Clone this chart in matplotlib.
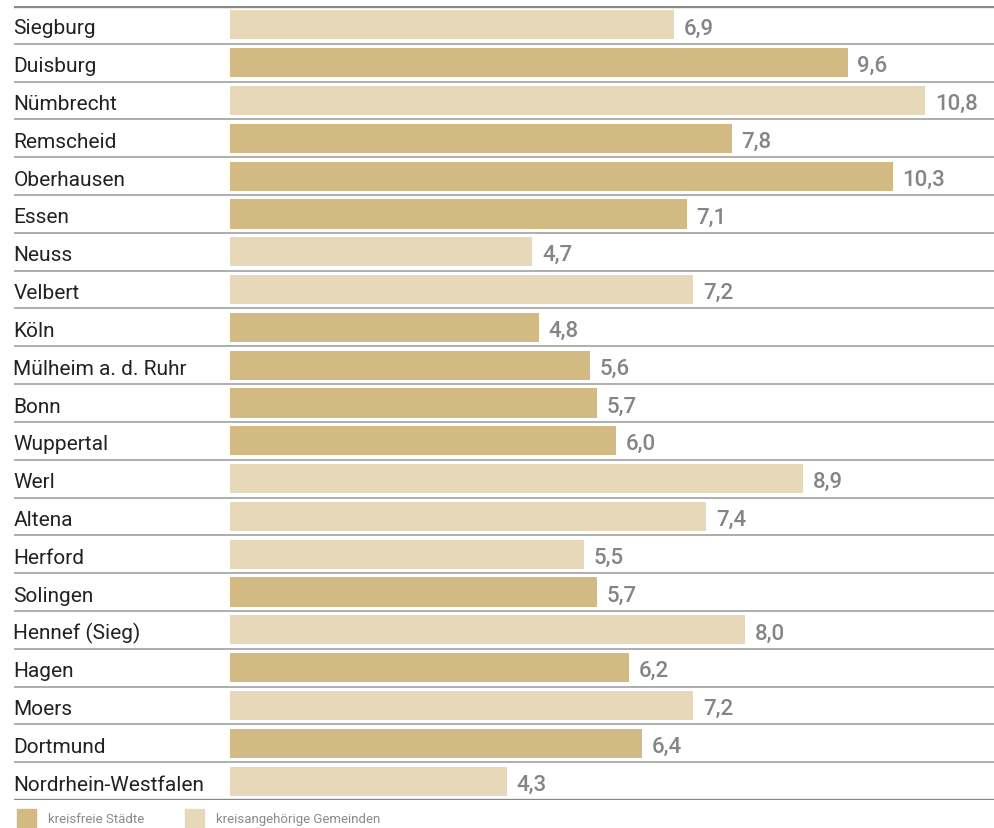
import matplotlib
matplotlib.use("Agg")
import matplotlib.pyplot as plt
from matplotlib.patches import Rectangle

names = ["Siegburg", "Duisburg", "Nümbrecht", "Remscheid", "Oberhausen", "Essen",
         "Neuss", "Velbert", "Köln", "Mülheim a. d. Ruhr", "Bonn", "Wuppertal",
         "Werl", "Altena", "Herford", "Solingen", "Hennef (Sieg)", "Hagen", "Moers",
         "Dortmund", "Nordrhein-Westfalen"]
values = [6.9, 9.6, 10.8, 7.8, 10.3, 7.1, 4.7, 7.2, 4.8, 5.6, 5.7, 6.0,
          8.9, 7.4, 5.5, 5.7, 8.0, 6.2, 7.2, 6.4, 4.3]
kreisfrei = [False, True, False, True, True, True, False, False, True, True, True, True,
             False, False, False, True, False, True, False, True, False]
legend_labels = ["kreisfreie Städte", "kreisangehörige Gemeinden"]

DARK = "#D3B982"
LIGHT = "#E8D8BA"
FONT = ["Roboto", "DejaVu Sans"]

W, H = 995, 829
fig = plt.figure(figsize=(W / 100, H / 100), dpi=100)
ax = fig.add_axes([14 / W, 1 - 801 / H, (W - 14) / W, 794 / H])
ppu = 695 / 10.8
ax.set_xlim(-(230 - 14) / ppu, (W - 230) / ppu)
n = len(names)
ax.set_ylim(n, 0)
ax.set_axis_off()

ys = [i + 0.5 for i in range(n)]
cols = [DARK if k else LIGHT for k in kreisfrei]
ax.barh(ys, values, height=0.77, color=cols, left=0)
x0 = ax.get_xlim()[0]
for y, name, v in zip(ys, names, values):
    ax.text(x0 - 0.01, y + 0.08, name, ha="left", va="center", fontsize=15,
            color="#222222", family=FONT)
    ax.text(v + 0.15, y + 0.08, f"{v:.1f}".replace(".", ","), ha="left", va="center",
            fontsize=16, color="#858585", family=FONT, fontweight="medium")
for i in range(1, n):
    ax.axhline(i, color="#a8a8a8", lw=1.3)
ax.axhline(0, color="#888888", lw=2.4)
ax.axhline(n, color="#888888", lw=2.4)

# legend
for (px, lab, c) in [(17, legend_labels[0], DARK), (185, legend_labels[1], LIGHT)]:
    fig.patches.append(Rectangle((px / W, 1 - 829 / H), 19 / W, 19 / H,
                                 transform=fig.transFigure, color=c))
    fig.text((px + 31) / W, 1 - 820 / H, lab, ha="left", va="center", fontsize=9.5,
             color="#8a8a8a", family=FONT)

fig.savefig("out.png", dpi=100)
